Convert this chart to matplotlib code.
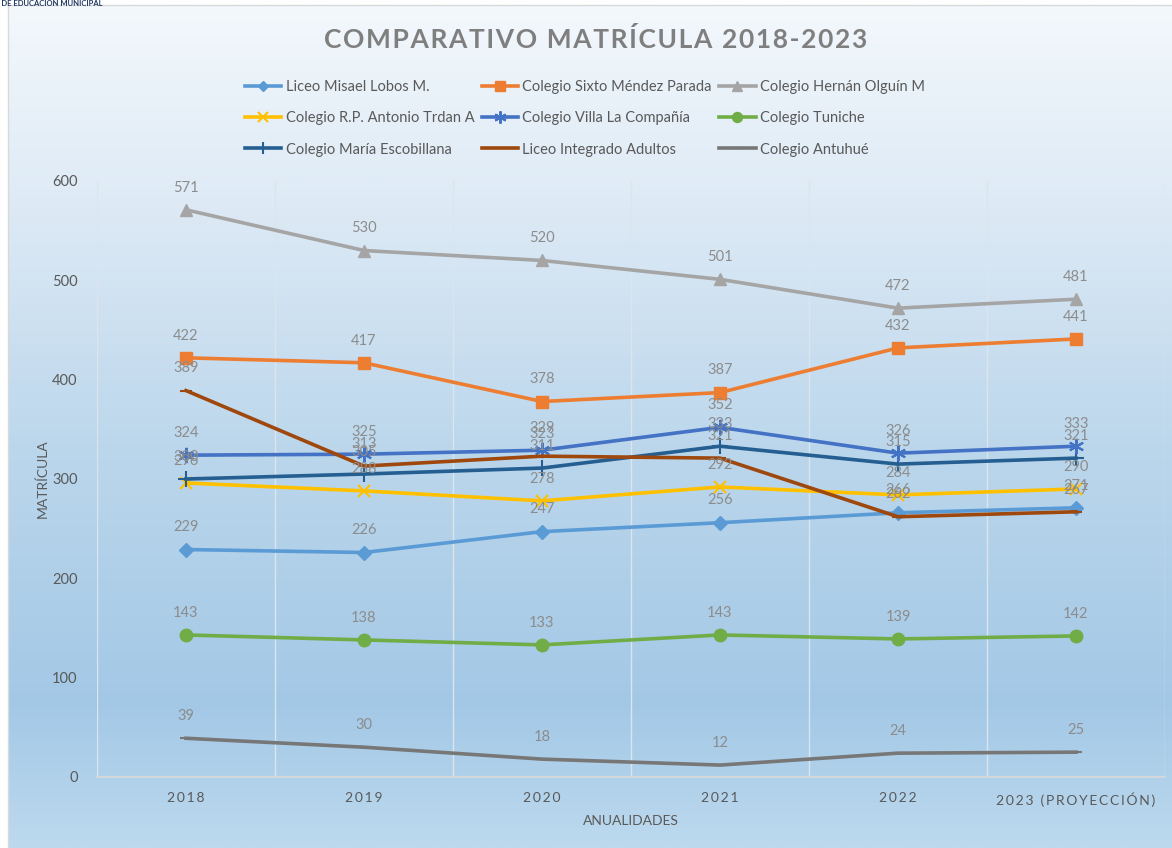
import numpy as np
import matplotlib
matplotlib.use("Agg")
import matplotlib.pyplot as plt
from matplotlib.colors import LinearSegmentedColormap
from matplotlib.patches import Rectangle

plt.rcParams['font.family'] = ['Lato', 'DejaVu Sans']

years = ["2018", "2019", "2020", "2021", "2022", "2023 (PROYECCIÓN)"]

misael = [229, 226, 247, 256, 266, 271]
sixto = [422, 417, 378, 387, 432, 441]
hernan = [571, 530, 520, 501, 472, 481]
trdan = [296, 288, 278, 292, 284, 290]
villa = [324, 325, 329, 352, 326, 333]
tuniche = [143, 138, 133, 143, 139, 142]
escobillana = [300, 305, 311, 333, 315, 321]
adultos = [389, 313, 323, 321, 262, 267]
antuhue = [39, 30, 18, 12, 24, 25]

# name, values, color, marker, marker size
series = [
    ("Liceo Misael Lobos M.", misael, "#5b9bd5", "D", 7),
    ("Colegio R.P. Antonio Trdan A", trdan, "#ffc000", "x", 9),
    ("Colegio María Escobillana", escobillana, "#255e91", "+", 11),
    ("Colegio Sixto Méndez Parada", sixto, "#ed7d31", "s", 9),
    ("Colegio Villa La Compañía", villa, "#4472c4", (6, 2, 0), 11),
    ("Liceo Integrado Adultos", adultos, "#9e480e", "_", 9),
    ("Colegio Hernán Olguín M", hernan, "#a5a5a5", "^", 9),
    ("Colegio Tuniche", tuniche, "#70ad47", "o", 9),
    ("Colegio Antuhué", antuhue, "#777777", "_", 9),
]

fig = plt.figure(figsize=(11.72, 8.48), dpi=100)

# background gradient of the chart box
bg = fig.add_axes([0, 0, 1, 1], zorder=-10)
bg.set_xlim(0, 1172)
bg.set_ylim(848, 0)
bg.axis("off")
cmap = LinearSegmentedColormap.from_list(
    "bg", [(0.0, "#f3f8fc"), (0.25, "#dce9f5"), (0.52, "#bcd7ec"),
           (0.83, "#a3c8e6"), (1.0, "#bcd9ee")])
grad = np.linspace(0, 1, 400).reshape(-1, 1)
bg.imshow(grad, cmap=cmap, aspect="auto", extent=[8, 1172, 848, 5])
bg.add_patch(Rectangle((8, 5), 1170, 850, fill=False, ec="#d9d9d9", lw=1))
bg.text(103, 3, "DIRECCION DE EDUCACION MUNICIPAL", ha="right", va="center",
        fontsize=5.5, fontweight="bold", color="#1f3864")

ax = fig.add_axes([97 / 1172, 71 / 848, 1068 / 1172, 596 / 848])
ax.patch.set_alpha(0)
x = np.arange(len(years))

for name, vals, col, mk, ms in series:
    ax.plot(x, vals, color=col, lw=2.6, marker=mk, markersize=ms,
            markeredgewidth=1.5 if mk in ("x", "+", "_") or isinstance(mk, tuple) else 1,
            markeredgecolor=col, markerfacecolor=col, label=name, zorder=3)
    for xi, v in zip(x, vals):
        ax.annotate(str(v), (xi, v), xytext=(0, 11), textcoords="offset points",
                    ha="center", va="bottom", fontsize=10.5, color="#8c8c8c", zorder=4)

ax.set_xlim(-0.5, 5.5)
ax.set_ylim(0, 600)
ax.set_yticks(range(0, 601, 100))
ax.set_xticks(x)
ax.set_xticklabels(["\u2009".join(y) for y in years], fontsize=10, color="#595959")
ax.set_xticks(np.arange(-0.5, 6, 1), minor=True)
ax.grid(True, which="minor", axis="x", color="#dbe5ee", lw=1.0)
ax.tick_params(axis="both", which="both", length=0)
ax.tick_params(axis="y", labelsize=10.5, labelcolor="#595959", pad=14)
ax.tick_params(axis="x", pad=11)
for s in ["top", "right", "left"]:
    ax.spines[s].set_visible(False)
ax.spines["bottom"].set_color("#d9d9d9")
ax.spines["bottom"].set_linewidth(1.2)

ax.set_ylabel("MATRÍCULA", fontsize=10, color="#595959", labelpad=2)
ax.set_xlabel("ANUALIDADES", fontsize=10, color="#595959", labelpad=6)

fig.text(596 / 1172, 1 - 40 / 848, "\u200a".join("COMPARATIVO MATRÍCULA 2018-2023"),
         ha="center", va="center", fontsize=19, fontweight="bold", color="#7f7f7f")

leg = fig.legend(loc="upper center", bbox_to_anchor=(585 / 1172, 1 - 67 / 848), ncol=3,
                 frameon=False, fontsize=10.5, handlelength=2.5, columnspacing=0.5,
                 handletextpad=0.3, labelspacing=1.18, labelcolor="#595959",
                 markerscale=0.8)

fig.savefig("out.png", dpi=100)
